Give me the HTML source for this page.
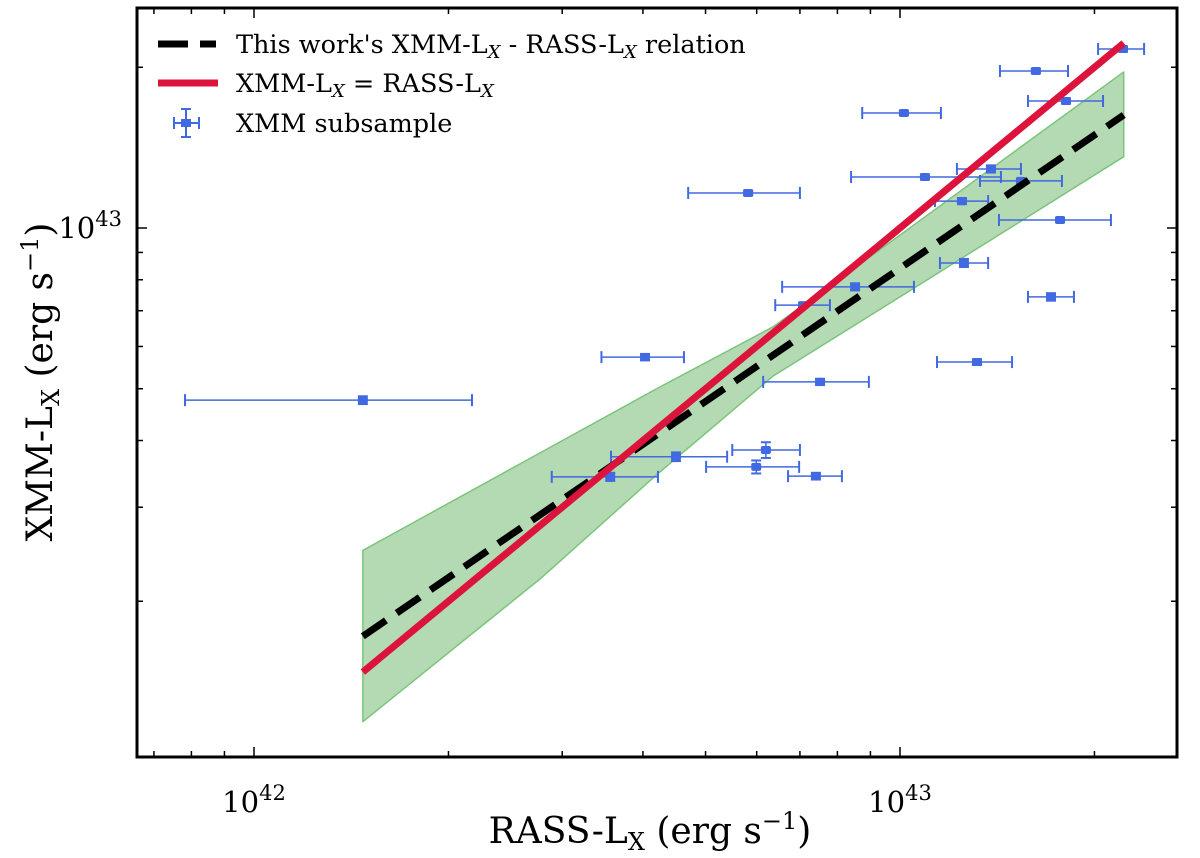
<!DOCTYPE html>
<html><head><meta charset="utf-8"><style>
html,body{margin:0;padding:0;background:#fff;}
svg{display:block;font-family:"DejaVu Serif","Liberation Serif",serif;}
</style></head><body>
<svg id="chart" width="1200" height="858" viewBox="0 0 1200 858">
<defs><clipPath id="clip"><rect x="137" y="8" width="1040" height="749"/></clipPath></defs>
<g id="band-layer" clip-path="url(#clip)"></g>
<g id="axes"></g>
</svg>
<script>
// data (luminosities in units of 1e42 erg/s)
const rassL = [1.474,4.03,3.56,4.50,5.82,5.99,6.20,7.08,7.41,7.52,8.52,10.14,10.93,12.47,12.56,13.16,13.83,15.39,16.23,17.13,17.69,18.07,22.14];
const rassLo = [0.782,3.45,2.89,3.57,4.70,5.01,5.50,6.41,6.71,6.14,6.57,8.74,8.40,11.33,11.53,11.41,12.25,13.30,14.28,15.78,14.23,15.78,20.26];
const rassHi = [2.175,4.63,4.22,5.40,7.00,6.98,7.00,7.79,8.13,8.95,10.51,11.57,14.33,13.69,13.69,14.91,15.39,17.81,18.20,18.59,21.21,20.62,23.87];
const xmmL = [4.76,5.73,3.42,3.73,11.63,3.57,3.84,7.17,3.43,5.15,7.76,16.42,12.46,11.23,8.60,5.61,12.90,12.25,19.68,7.43,10.35,17.29,21.64];
const xmmErr = [0.08,0.08,0.06,0.07,0.12,0.10,0.13,0.08,0.05,0.07,0.12,0.15,0.14,0.15,0.15,0.07,0.2,0.13,0.2,0.12,0.1,0.2,0.25];
const fitX = [1.474,22.2];
const fitY = [1.72,16.28];
const oneToOne = [1.474,22.2];
const bandX = [1.474,2.77,4.2,6.36,10,22.2];
const bandHi = [2.49,3.79,5.0,6.53,9.7,19.6];
const bandLo = [1.19,2.20,3.45,5.28,7.43,13.6];
const xMajor = [1,10];
const xMinor = [0.7,0.8,0.9,2,3,4,5,6,7,8,9,20];
const yMajor = [10];
const yMinor = [2,3,4,5,6,7,8,9,20];

const L=137,R=1177,T=8,B=757;
const X = v => 254 + 646*Math.log10(v);
const Y = v => 228 - 534*(Math.log10(v)-1);
const NS='http://www.w3.org/2000/svg';
function mk(tag, attrs, parent){const e=document.createElementNS(NS,tag);for(const k in attrs)e.setAttribute(k,attrs[k]);parent.appendChild(e);return e;}
const P=document.getElementById('band-layer'), A=document.getElementById('axes');

let pts=bandX.map((x,i)=>X(x)+','+Y(bandHi[i]));
for(let i=bandX.length-1;i>=0;i--) pts.push(X(bandX[i])+','+Y(bandLo[i]));
const band=mk('polygon',{points:pts.join(' '),fill:'#b3dab3',stroke:'#7cc47c','stroke-width':1.5,'stroke-linejoin':'round'},P);



const pg=mk('g',{},P);


const blue='#4169e1';
rassL.forEach((x,i)=>{
  const g=mk('g',{stroke:blue,fill:blue},pg);
  
  
  const cx=X(x), cy=Y(xmmL[i]), x1=X(rassLo[i]), x2=X(rassHi[i]);
  const y1=Y(xmmL[i]+xmmErr[i]), y2=Y(xmmL[i]-xmmErr[i]);
  mk('line',{x1:x1,y1:cy,x2:x2,y2:cy,'stroke-width':1.5},g);
  mk('line',{x1:x1,y1:cy-6,x2:x1,y2:cy+6,'stroke-width':2},g);
  mk('line',{x1:x2,y1:cy-6,x2:x2,y2:cy+6,'stroke-width':2},g);
  mk('line',{x1:cx,y1:y1,x2:cx,y2:y2,'stroke-width':1.5},g);
  mk('line',{x1:cx-5,y1:y1,x2:cx+5,y2:y1,'stroke-width':2},g);
  mk('line',{x1:cx-5,y1:y2,x2:cx+5,y2:y2,'stroke-width':2},g);
  mk('rect',{x:cx-5,y:cy-4,width:10,height:8,rx:2,stroke:'none'},g);
});

const fit=mk('line',{x1:X(fitX[0]),y1:Y(fitY[0]),x2:X(fitX[1]),y2:Y(fitY[1]),stroke:'#000','stroke-width':7,'stroke-dasharray':'28,13'},P);


const red=mk('line',{x1:X(oneToOne[0]),y1:Y(oneToOne[0]),x2:X(oneToOne[1]),y2:Y(oneToOne[1]),stroke:'#dc143c','stroke-width':7},P);



function tick(x1,y1,x2,y2){mk('line',{x1,y1,x2,y2,stroke:'#000','stroke-width':1.5},A);}
xMajor.forEach(v=>{const x=X(v);tick(x,B,x,B-10);tick(x,T,x,T+10);});
xMinor.forEach(v=>{const x=X(v);tick(x,B,x,B-6);tick(x,T,x,T+6);});
yMajor.forEach(v=>{const y=Y(v);tick(L,y,L+10,y);tick(R,y,R-10,y);});
yMinor.forEach(v=>{const y=Y(v);tick(L,y,L+6,y);tick(R,y,R-6,y);});
const frame=mk('rect',{x:L,y:T,width:R-L,height:B-T,fill:'none',stroke:'#000','stroke-width':3},A);



xMajor.forEach(v=>{
  const t=mk('text',{x:X(v),y:812,'text-anchor':'middle','font-size':29},A);
  
  
  t.innerHTML='10<tspan dy="-12" font-size="21">'+(42+Math.log10(v))+'</tspan>';
});
yMajor.forEach(v=>{
  const t=mk('text',{x:122,y:Y(v)+10,'text-anchor':'end','font-size':29},A);
  
  
  t.innerHTML='10<tspan dy="-12" font-size="21">'+(42+Math.log10(v))+'</tspan>';
});
</script>
<div style="position:absolute;left:0;top:0;width:1200px;height:858px;pointer-events:none">
<svg width="1200" height="858" style="font-family:'DejaVu Serif','Liberation Serif',serif">
<text x="650" y="843" text-anchor="middle" font-size="36">RASS-L<tspan font-size="24" dy="7">X</tspan><tspan dy="-7"> (erg s</tspan><tspan font-size="24" dy="-14">−1</tspan><tspan dy="14">)</tspan></text>
<text transform="translate(52,382) rotate(-90)" text-anchor="middle" font-size="36">XMM-L<tspan font-size="24" dy="7">X</tspan><tspan dy="-7"> (erg s</tspan><tspan font-size="24" dy="-14">−1</tspan><tspan dy="14">)</tspan></text>
<g font-size="25.5">
<g>
<line x1="158" y1="44" x2="216" y2="44" stroke="#000" stroke-width="7" stroke-dasharray="30,12"/>
<text x="236" y="53">This work's XMM-L<tspan font-style="italic" font-size="18" dy="5">X</tspan><tspan dy="-5"> - RASS-L</tspan><tspan font-style="italic" font-size="18" dy="5">X</tspan><tspan dy="-5"> relation</tspan></text>
</g>
<g>
<line x1="158" y1="83" x2="218" y2="83" stroke="#dc143c" stroke-width="7"/>
<text x="236" y="92">XMM-L<tspan font-style="italic" font-size="18" dy="5">X</tspan><tspan dy="-5"> = RASS-L</tspan><tspan font-style="italic" font-size="18" dy="5">X</tspan></text>
</g>
<g stroke="#4169e1" stroke-width="2">
<line x1="174" y1="123" x2="199" y2="123"/><line x1="174" y1="117" x2="174" y2="129"/><line x1="199" y1="117" x2="199" y2="129"/>
<line x1="186" y1="109" x2="186" y2="137"/><line x1="181" y1="109" x2="191" y2="109"/><line x1="181" y1="137" x2="191" y2="137"/>
<rect x="181" y="119" width="10" height="8" fill="#4169e1" stroke="none"/>
<text x="236" y="132" stroke="none" fill="#000">XMM subsample</text>
</g>
</g>
</svg></div>
</body></html>
